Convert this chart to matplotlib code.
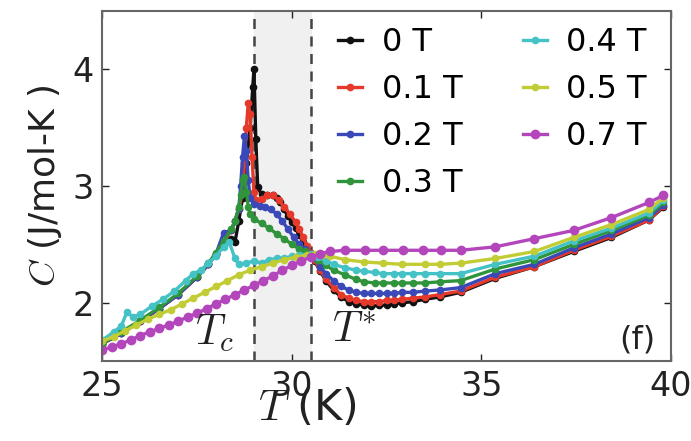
import numpy as np
import matplotlib
matplotlib.use('Agg')
import matplotlib.pyplot as plt

plt.rcParams['mathtext.fontset'] = 'cm'
plt.rcParams['font.family'] = 'DejaVu Sans'

# specific heat C (J/mol-K) vs temperature T (K) for several fields
T_0 = [25.0, 25.5, 26.0, 26.5, 27.0, 27.5, 27.8, 28.0, 28.2, 28.4, 28.5, 28.6, 28.7, 28.8, 28.9,
       28.97, 29.0, 29.05, 29.1, 29.2, 29.35, 29.5, 29.6, 29.7, 29.8, 29.9, 30.0, 30.1, 30.2, 30.3,
       30.4, 30.5, 30.6, 30.75, 30.9, 31.1, 31.3, 31.5, 31.7, 31.9, 32.1, 32.3, 32.5, 32.7, 32.9,
       33.2, 33.5, 33.9, 34.45, 35.37, 36.4, 37.43, 38.43, 39.42, 39.8]
C_0 = [1.65, 1.74, 1.84, 1.95, 2.07, 2.22, 2.33, 2.42, 2.52, 2.55, 2.52, 2.70, 2.90, 3.20, 3.50,
       3.85, 4.00, 3.40, 2.99, 2.93, 2.92, 2.92, 2.90, 2.86, 2.80, 2.74, 2.69, 2.64, 2.58, 2.52,
       2.47, 2.42, 2.36, 2.27, 2.19, 2.11, 2.05, 2.01, 1.99, 1.98, 1.97, 1.98, 1.98, 1.99, 2.00,
       2.01, 2.03, 2.05, 2.09, 2.21, 2.31, 2.44, 2.56, 2.71, 2.82]

T_01 = [25.0, 25.5, 26.0, 26.5, 27.0, 27.5, 27.8, 28.0, 28.2, 28.4, 28.5, 28.6, 28.7, 28.75, 28.8,
        28.85, 28.9, 28.95, 29.0, 29.05, 29.2, 29.35, 29.5, 29.65, 29.8, 29.95, 30.1, 30.2, 30.3,
        30.4, 30.5, 30.6, 30.75, 30.9, 31.1, 31.3, 31.5, 31.7, 31.9, 32.1, 32.3, 32.5, 32.7, 32.9,
        33.2, 33.5, 33.9, 34.45, 35.37, 36.4, 37.43, 38.43, 39.42, 39.8]
C_01 = [1.65, 1.74, 1.84, 1.95, 2.07, 2.22, 2.33, 2.42, 2.52, 2.62, 2.70, 2.80, 2.95, 3.20, 3.50,
        3.71, 3.62, 3.25, 2.95, 2.88, 2.89, 2.92, 2.92, 2.88, 2.82, 2.76, 2.69, 2.63, 2.56,
        2.49, 2.43, 2.37, 2.28, 2.20, 2.13, 2.07, 2.04, 2.02, 2.01, 2.01, 2.01, 2.02, 2.02, 2.03,
        2.04, 2.05, 2.07, 2.10, 2.22, 2.31, 2.45, 2.57, 2.71, 2.83]

T_02 = [25.0, 25.5, 26.0, 26.5, 27.0, 27.5, 27.8, 28.0, 28.2, 28.4, 28.5, 28.6, 28.65, 28.7, 28.75,
        28.8, 28.85, 28.9, 29.0, 29.15, 29.3, 29.45, 29.6, 29.75, 29.9, 30.05, 30.2, 30.35, 30.5,
        30.6, 30.75, 30.9, 31.1, 31.3, 31.5, 31.7, 31.9, 32.1, 32.3, 32.5, 32.7, 32.9, 33.2, 33.5,
        33.9, 34.45, 35.37, 36.4, 37.43, 38.43, 39.42, 39.8]
C_02 = [1.65, 1.74, 1.84, 1.95, 2.07, 2.22, 2.33, 2.42, 2.60, 2.62, 2.70, 2.80, 3.00, 3.25, 3.43,
        3.30, 3.05, 2.90, 2.85, 2.83, 2.82, 2.80, 2.76, 2.70, 2.63, 2.56, 2.50, 2.46, 2.42,
        2.38, 2.31, 2.25, 2.19, 2.14, 2.11, 2.09, 2.08, 2.08, 2.08, 2.08, 2.08, 2.09, 2.09, 2.10,
        2.11, 2.13, 2.25, 2.33, 2.47, 2.59, 2.73, 2.84]

T_03 = [25.0, 25.5, 26.0, 26.5, 27.0, 27.5, 27.8, 28.0, 28.2, 28.4, 28.5, 28.6, 28.65, 28.7, 28.75,
        28.8, 28.85, 28.9, 29.0, 29.2, 29.4, 29.6, 29.8, 30.0, 30.2, 30.35, 30.5, 30.7, 30.9, 31.1,
        31.4, 31.7, 31.9, 32.2, 32.4, 32.7, 32.9, 33.2, 33.5, 33.9, 34.45, 35.37, 36.4, 37.43,
        38.43, 39.42, 39.8]
C_03 = [1.65, 1.75, 1.85, 1.96, 2.08, 2.23, 2.34, 2.43, 2.53, 2.63, 2.70, 2.82, 2.92, 3.05, 3.08,
        2.95, 2.82, 2.76, 2.72, 2.68, 2.64, 2.59, 2.55, 2.50, 2.46, 2.44, 2.42, 2.37, 2.32, 2.28,
        2.24, 2.20, 2.18, 2.17, 2.17, 2.17, 2.17, 2.17, 2.17, 2.18, 2.19, 2.29, 2.37, 2.50,
        2.62, 2.75, 2.86]

T_04 = [25.0, 25.3, 25.5, 25.65, 25.8, 26.0, 26.3, 26.6, 26.9, 27.2, 27.4, 27.6, 27.8, 28.0, 28.2,
        28.35, 28.5, 28.6, 28.8, 29.0, 29.2, 29.4, 29.6, 29.8, 30.0, 30.2, 30.5, 30.7, 30.9, 31.1,
        31.4, 31.7, 31.9, 32.2, 32.4, 32.7, 32.9, 33.2, 33.5, 33.9, 34.45, 35.37, 36.4, 37.43,
        38.43, 39.42, 39.8]
C_04 = [1.68, 1.75, 1.80, 1.92, 1.88, 1.90, 1.97, 2.03, 2.10, 2.19, 2.25, 2.28, 2.34, 2.40, 2.48,
        2.52, 2.38, 2.33, 2.34, 2.36, 2.34, 2.37, 2.38, 2.38, 2.40, 2.41, 2.42, 2.39, 2.36, 2.33,
        2.30, 2.28, 2.27, 2.26, 2.25, 2.25, 2.25, 2.25, 2.25, 2.25, 2.25, 2.33, 2.40, 2.53,
        2.64, 2.77, 2.88]

T_05 = [25.0, 25.3, 25.6, 25.9, 26.2, 26.5, 26.8, 27.1, 27.4, 27.7, 28.0, 28.3, 28.6, 28.9, 29.2,
        29.5, 29.8, 30.1, 30.4, 30.6, 30.8, 31.0, 31.4, 31.9, 32.4, 32.9, 33.5, 33.9, 34.45, 35.37,
        36.4, 37.43, 38.43, 39.42, 39.8]
C_05 = [1.67, 1.71, 1.76, 1.81, 1.86, 1.90, 1.94, 1.99, 2.04, 2.09, 2.14, 2.19, 2.24, 2.28, 2.31,
        2.34, 2.37, 2.39, 2.41, 2.42, 2.41, 2.40, 2.37, 2.35, 2.34, 2.33, 2.33, 2.33, 2.34, 2.38,
        2.44, 2.56, 2.67, 2.80, 2.90]

T_07 = [25.0, 25.25, 25.5, 25.75, 26.0, 26.25, 26.5, 26.75, 27.0, 27.25, 27.5, 27.75, 28.0, 28.25,
        28.5, 28.75, 29.0, 29.25, 29.5, 29.75, 30.0, 30.25, 30.5, 30.75, 31.0, 31.41, 31.94, 32.41,
        32.93, 33.46, 33.93, 34.45, 35.37, 36.4, 37.43, 38.43, 39.42, 39.8]
C_07 = [1.60, 1.62, 1.65, 1.68, 1.72, 1.75, 1.78, 1.81, 1.84, 1.88, 1.91, 1.95, 1.99, 2.03,
        2.07, 2.11, 2.15, 2.19, 2.23, 2.28, 2.32, 2.36, 2.39, 2.42, 2.44, 2.45, 2.45, 2.45,
        2.45, 2.45, 2.45, 2.45, 2.48, 2.55, 2.62, 2.73, 2.86, 2.92]

series = [(T_0, C_0, '0 T', '#111111'),
          (T_01, C_01, '0.1 T', '#e5392c'),
          (T_02, C_02, '0.2 T', '#3a48b8'),
          (T_03, C_03, '0.3 T', '#2f943c'),
          (T_04, C_04, '0.4 T', '#45c2c6'),
          (T_05, C_05, '0.5 T', '#c2cc34'),
          (T_07, C_07, '0.7 T', '#b446bc')]

Tc = 29.0
Tstar = 30.5

fig = plt.figure(figsize=(6.91, 4.41), dpi=100)
ax = fig.add_axes([0.148, 0.181, 0.823, 0.794])

ax.axvspan(Tc, Tstar, color='#f0f0f0', zorder=0)
ax.axvline(Tc, color='#444444', ls=(0, (4, 3)), lw=1.8, zorder=1)
ax.axvline(Tstar, color='#444444', ls=(0, (4, 3)), lw=1.8, zorder=1)

for T, C, lab, col in series:
    ms = 6 if lab == '0.7 T' else 4.5
    ax.plot(T, C, '-o', color=col, lw=2.4, ms=ms, mec=col, label=lab, zorder=2)

ax.set_xlim(25, 40)
ax.set_ylim(1.5, 4.5)
ax.set_xticks([25, 30, 35, 40])
ax.set_yticks([2, 3, 4])
ax.tick_params(direction='in', top=True, right=True, length=5, width=1,
               labelsize=24, colors='#222222', pad=6)
for s in ax.spines.values():
    s.set_color('#666666')
    s.set_linewidth(1.5)

# label sits left of centre and overlaps the "30" tick, as in the original
ax.set_xlabel(r'$T$ (K)', fontsize=31, color='#222222')
ax.xaxis.set_label_coords(0.36, -0.075)
ax.set_ylabel(r'$C$ (J/mol-K )', fontsize=26, color='#222222', labelpad=6)

ax.text(27.95, 1.56, r'$T_c$', fontsize=30, ha='center', va='bottom', color='#222222')
ax.text(31.65, 1.6, r'$T^{*}$', fontsize=30, ha='center', va='bottom', color='#222222')
ax.text(39.6, 1.55, '(f)', fontsize=23, ha='right', va='bottom', color='#222222')

ax.legend(loc='upper right', ncol=2, frameon=False, fontsize=23, handlelength=0.75,
          handletextpad=0.6, columnspacing=1.9, labelspacing=0.5, borderaxespad=0.1,
          bbox_to_anchor=(0.985, 1.0))

fig.savefig('out.png', dpi=100)
